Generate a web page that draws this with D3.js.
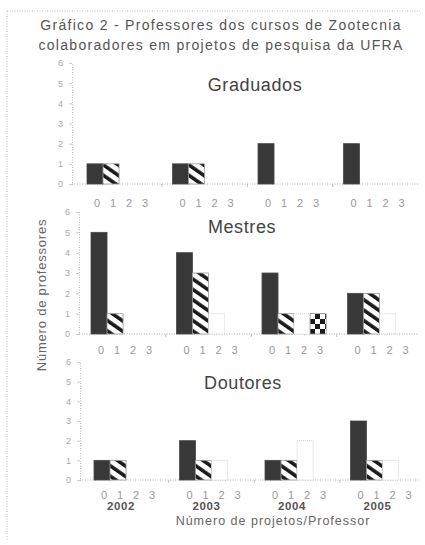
<!DOCTYPE html>
<html>
<head>
<meta charset="utf-8">
<script src="https://cdn.jsdelivr.net/npm/d3@7"></script>
<style>
  html, body { margin: 0; padding: 0; background: #fff; }
  svg { display: block; font-family: "Liberation Sans", Arial, sans-serif; }
</style>
</head>
<body>
<svg id="chart" width="425" height="545"></svg>
<script>
// Data: number of professors per number of research projects, by year and degree
const years = ["2002", "2003", "2004", "2005"];
const projetos = ["0", "1", "2", "3"];
const niveis = ["Graduados", "Mestres", "Doutores"];
const graduados = [[1, 1, 0, 0], [1, 1, 0, 0], [2, 0, 0, 0], [2, 0, 0, 0]];
const mestres   = [[5, 1, 0, 0], [4, 3, 1, 0], [3, 1, 1, 1], [2, 2, 1, 0]];
const doutores  = [[1, 1, 0, 0], [2, 1, 1, 0], [1, 1, 2, 0], [3, 1, 1, 0]];
const yTicks = [0, 1, 2, 3, 4, 5, 6];
const titulo = ["Gráfico 2 - Professores dos cursos de Zootecnia",
                "colaboradores em projetos de pesquisa da UFRA"];
const tituloY = "Número de professores";
const tituloX = "Número de projetos/Professor";

// Panel layout
const panels = [
  { nome: niveis[0], values: graduados, axisX: 72, base: 184, top: 63, barStart: 87, titleX: 255, titleY: 91, tickY: 207 },
  { nome: niveis[1], values: mestres,   axisX: 79, base: 334, top: 212, barStart: 91, titleX: 242, titleY: 233, tickY: 354 },
  { nome: niveis[2], values: doutores,  axisX: 80, base: 480, top: 362, barStart: 94, titleX: 243, titleY: 389, tickY: 499 }
];
const axisEnd = 418;
const step = 85.5, pIn = 0.25, pOut = 0.125;
const FONT = "Liberation Sans, Arial, sans-serif";

const svg = d3.select("#chart");
const defs = svg.append("defs");

// diagonal hatch for "1 projeto"
const hatch = defs.append("pattern").attr("id", "hatch")
  .attr("patternUnits", "userSpaceOnUse").attr("width", 8.5).attr("height", 8.5)
  .attr("patternTransform", "rotate(-55)");
hatch.append("rect").attr("width", 8.5).attr("height", 8.5).attr("fill", "#fff");
hatch.append("rect").attr("width", 3.6).attr("height", 8.5).attr("fill", "#1a1a1a");

// checkerboard for "3 projetos"
const checker = defs.append("pattern").attr("id", "checker")
  .attr("patternUnits", "userSpaceOnUse").attr("width", 10).attr("height", 10)
  .attr("x", 308).attr("y", 314);
checker.append("rect").attr("width", 10).attr("height", 10).attr("fill", "#fff");
checker.append("rect").attr("x", 5).attr("y", 0).attr("width", 5).attr("height", 5).attr("fill", "#1a1a1a");
checker.append("rect").attr("x", 0).attr("y", 5).attr("width", 5).attr("height", 5).attr("fill", "#1a1a1a");

const fills = ["#383838", "url(#hatch)", "#ffffff", "url(#checker)"];
const strokes = ["#4a4a4a", "#999", "#c8c8c8", "#999"];

// dotted frame
svg.append("line").attr("x1", 7).attr("x2", 420).attr("y1", 11).attr("y2", 11)
  .attr("stroke", "#bbb").attr("stroke-dasharray", "1,1.5");
svg.append("line").attr("x1", 7).attr("x2", 7).attr("y1", 11).attr("y2", 541)
  .attr("stroke", "#bbb").attr("stroke-dasharray", "1,1.5");

// title
svg.append("g").selectAll("text").data(titulo).join("text")
  .attr("x", 221).attr("y", (d, i) => 30 + i * 20)
  .attr("text-anchor", "middle").attr("font-family", FONT)
  .attr("font-size", 14).attr("letter-spacing", 1.3)
  .attr("fill", "#555").text(d => d);

panels.forEach(p => {
  const g = svg.append("g");
  const y = d3.scaleLinear().domain([0, 6]).range([p.base, p.top]);
  const r0 = p.barStart - step * pOut;
  const x0 = d3.scaleBand().domain(years).range([r0, r0 + step * (years.length - pIn + 2 * pOut)])
    .paddingInner(pIn).paddingOuter(pOut);
  const x1 = d3.scaleBand().domain(projetos).range([0, x0.bandwidth()]);

  // y axis
  const ya = g.append("g").attr("transform", `translate(${p.axisX},0)`)
    .call(d3.axisLeft(y).tickValues(yTicks).tickSize(3).tickPadding(6).tickFormat(d3.format("d")));
  ya.select(".domain").attr("stroke", "#bbb").attr("stroke-dasharray", "1,1.5");
  ya.selectAll(".tick line").attr("stroke", "#ccc");
  ya.selectAll(".tick text").attr("fill", "#aaa").attr("font-size", 9).attr("font-family", FONT);

  // baseline
  g.append("line").attr("x1", p.axisX).attr("x2", axisEnd).attr("y1", p.base).attr("y2", p.base)
    .attr("stroke", "#aaa").attr("stroke-dasharray", "1,1.5");
  g.selectAll(".sep").data(years.slice(1)).join("line").attr("class", "sep")
    .attr("x1", d => x0(d) - x0.step() * pIn / 2).attr("x2", d => x0(d) - x0.step() * pIn / 2)
    .attr("y1", p.base).attr("y2", p.base + 3).attr("stroke", "#bbb");

  // bars
  const grp = g.selectAll(".grp").data(years).join("g").attr("class", "grp")
    .attr("transform", d => `translate(${x0(d)},0)`);
  grp.selectAll("rect")
    .data((d, i) => p.values[i].map((v, k) => ({ k, v })).filter(e => e.v > 0))
    .join("rect")
    .attr("x", e => x1(projetos[e.k]))
    .attr("y", e => y(e.v))
    .attr("width", x1.bandwidth())
    .attr("height", e => p.base - y(e.v))
    .attr("fill", e => fills[e.k])
    .attr("stroke", e => strokes[e.k])
    .attr("stroke-width", 0.8)
    .attr("stroke-dasharray", e => e.k === 2 ? "1,1" : null);

  // category tick labels
  grp.selectAll("text.pl").data(projetos).join("text").attr("class", "pl")
    .attr("x", d => x1(d) + x1.bandwidth() / 2 + 2)
    .attr("y", p.tickY)
    .attr("text-anchor", "middle").attr("font-family", FONT)
    .attr("font-size", 11).attr("fill", "#999")
    .text(d => d);

  // panel title
  g.append("text").attr("x", p.titleX).attr("y", p.titleY).attr("text-anchor", "middle")
    .attr("font-family", FONT).attr("font-size", 18).attr("letter-spacing", 0.6)
    .attr("fill", "#444").text(p.nome);

  p.x0 = x0;
});

// year labels below the last panel
const last = panels[panels.length - 1];
svg.append("g").selectAll("text").data(years).join("text")
  .attr("x", d => last.x0(d) + last.x0.bandwidth() / 2 - 5)
  .attr("y", 510).attr("text-anchor", "middle").attr("font-family", FONT)
  .attr("font-size", 11.5).attr("font-weight", "bold").attr("letter-spacing", 0.6)
  .attr("fill", "#555").text(d => d);

// axis titles
svg.append("text").attr("x", 273).attr("y", 525).attr("text-anchor", "middle")
  .attr("font-family", FONT).attr("font-size", 12.5).attr("letter-spacing", 1.0)
  .attr("fill", "#666").text(tituloX);
svg.append("text").attr("transform", "translate(46,295) rotate(-90)").attr("text-anchor", "middle")
  .attr("font-family", FONT).attr("font-size", 13).attr("letter-spacing", 0.8)
  .attr("fill", "#666").text(tituloY);
</script>
</body>
</html>
